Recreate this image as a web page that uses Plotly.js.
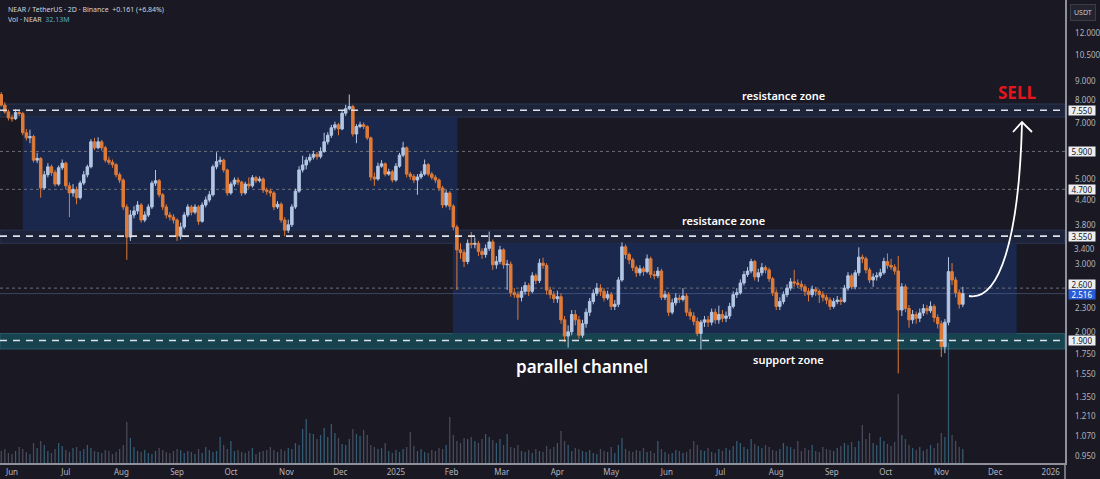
<!DOCTYPE html>
<html><head><meta charset="utf-8">
<script src="https://cdn.plot.ly/plotly-3.0.1.min.js"></script>
<style>html,body{margin:0;padding:0;background:#191823;overflow:hidden}#chart{width:1100px;height:479px}</style>
</head><body><div id="chart"></div>
<script>
// ---------- DATA (NEAR/USDT, 2-day candles) ----------
const startDate = '2024-05-26';
const stepDays = 2;
const firstOpen = 8.30;
const closePrices = [
7.79,7.48,7.22,7.18,7.45,7.40,6.60,6.40,6.45,5.60,
5.66,4.74,5.13,5.38,5.20,4.85,5.35,5.50,4.80,4.60,
4.70,4.47,4.88,5.13,5.38,6.25,6.03,6.25,6.03,5.60,
5.53,5.45,5.13,4.97,4.23,3.53,4.03,4.13,4.28,3.91,
4.03,4.23,4.88,4.95,4.55,4.23,4.03,3.98,3.91,3.55,
3.75,4.03,4.23,4.10,4.23,3.88,4.28,4.41,4.55,5.38,
5.55,5.60,5.28,4.60,4.85,4.97,4.91,4.60,4.85,4.80,
5.04,4.95,5.00,4.68,4.65,4.60,4.23,4.30,3.91,3.68,
3.80,4.23,4.65,5.28,5.44,5.60,5.70,5.80,5.72,5.90,
6.25,6.50,6.80,6.92,6.75,7.42,7.62,7.72,6.55,6.85,
6.92,6.85,6.40,5.06,5.00,5.40,5.48,5.15,5.22,4.97,
5.40,5.77,6.03,5.15,5.08,4.97,5.06,5.15,5.45,5.15,
5.05,4.97,4.74,
4.28,4.60,4.25,3.75,3.27,3.22,3.05,3.40,3.38,3.40,
3.24,3.18,3.30,3.43,2.99,3.05,3.27,2.99,3.00,2.53,
2.50,2.46,2.55,2.64,2.55,2.80,2.72,3.02,2.98,2.57,
2.50,2.44,2.47,2.15,1.95,2.00,2.22,2.15,1.96,2.10,
2.25,2.40,2.52,2.60,2.55,2.45,2.50,2.33,2.36,2.73,
3.33,3.18,3.08,2.94,2.85,2.92,2.87,3.10,2.82,2.80,
2.88,2.46,2.50,2.25,2.38,2.45,2.43,2.48,2.25,2.20,
2.13,1.98,2.12,2.15,2.12,2.25,2.15,2.22,2.17,2.20,
2.33,2.50,2.53,2.68,2.82,2.88,3.05,2.78,2.85,2.94,
2.90,2.75,2.53,2.33,2.40,2.50,2.60,2.70,2.68,2.66,
2.62,2.55,2.50,2.58,2.55,2.50,2.46,2.42,2.33,2.40,
2.42,2.40,2.60,2.80,2.62,2.85,3.13,3.10,2.90,2.73,
2.78,2.80,2.85,3.05,2.98,2.95,2.88,2.28,2.62,2.30,
2.15,2.22,2.17,2.24,2.30,2.27,2.33,2.18,2.10,1.83,
2.12,2.87,2.73,2.53,2.36,2.516
];
const highPrices = [
8.42,7.92,7.58,7.35,7.60,7.58,7.48,6.75,6.72,6.52,
5.85,5.70,5.25,5.50,5.45,5.28,5.42,5.62,5.55,4.90,
4.85,4.78,4.95,5.25,5.45,6.35,6.40,6.42,6.32,6.10,
5.72,5.62,5.50,5.20,5.02,4.30,4.15,4.25,4.38,4.33,
4.12,4.30,4.95,5.28,5.00,4.60,4.30,4.10,4.05,3.95,
3.85,4.10,4.30,4.28,4.30,4.28,4.35,4.50,4.65,5.45,
5.87,5.72,5.65,5.32,4.92,5.05,5.05,4.95,4.92,5.05,
5.12,5.10,5.08,5.05,4.75,4.72,4.65,4.38,4.35,3.98,
3.92,4.30,4.72,5.40,5.75,5.70,5.82,5.92,5.88,6.05,
6.60,6.62,6.92,7.05,7.00,7.55,7.80,8.30,7.80,6.95,
7.05,7.02,6.90,6.45,5.20,5.52,5.60,5.52,5.32,5.28,
5.50,5.85,6.25,6.08,5.22,5.15,5.15,5.25,5.62,5.50,
5.22,5.12,5.02,
4.80,4.68,4.65,4.30,3.80,3.40,3.28,3.48,3.64,3.52,
3.45,3.30,3.38,3.65,3.48,3.15,3.35,3.30,3.08,3.05,
2.60,2.55,2.62,2.70,2.68,2.86,2.84,3.10,3.12,3.02,
2.62,2.55,2.56,2.52,2.20,2.08,2.28,2.28,2.20,2.15,
2.30,2.45,2.58,2.68,2.66,2.60,2.56,2.54,2.42,2.78,
3.42,3.38,3.22,3.12,2.98,2.98,2.96,3.18,3.14,2.88,
2.95,2.92,2.56,2.54,2.44,2.52,2.50,2.60,2.52,2.30,
2.25,2.18,2.15,2.20,2.20,2.30,2.30,2.34,2.28,2.26,
2.38,2.55,2.60,2.74,2.88,2.95,3.10,3.08,2.92,3.02,
2.98,2.94,2.78,2.58,2.46,2.55,2.66,2.76,2.90,2.74,
2.72,2.66,2.60,2.64,2.62,2.58,2.55,2.50,2.46,2.45,
2.48,2.46,2.65,2.86,2.84,2.90,3.32,3.18,3.14,2.94,
2.84,2.86,2.92,3.12,3.20,3.10,3.00,3.15,2.68,2.66,
2.35,2.28,2.26,2.30,2.36,2.35,2.40,2.36,2.22,2.14,
2.16,3.13,3.02,2.78,2.58,2.62
];
const lowPrices = [
7.72,7.40,7.10,7.05,7.12,7.30,6.50,6.30,6.20,5.52,
5.50,4.47,4.70,5.05,5.10,4.78,4.80,5.28,4.70,3.98,
4.50,4.30,4.42,4.82,5.05,5.33,5.95,5.98,5.92,5.52,
5.45,5.35,5.05,4.88,4.15,3.08,3.45,3.95,4.05,3.85,
3.86,3.98,4.18,4.80,4.48,4.15,3.95,3.90,3.83,3.45,
3.48,3.70,3.98,4.02,4.05,3.80,3.85,4.22,4.35,4.50,
5.30,5.45,5.20,4.52,4.55,4.78,4.82,4.52,4.55,4.72,
4.75,4.88,4.90,4.60,4.55,4.50,4.15,4.18,3.85,3.55,
3.62,3.75,4.18,4.60,5.20,5.30,5.52,5.62,5.62,5.65,
5.85,6.15,6.40,6.70,6.50,6.70,7.30,7.55,6.45,6.20,
6.78,6.75,6.32,4.95,4.80,4.95,5.35,5.08,5.10,4.90,
4.92,5.35,5.70,5.05,4.98,4.88,4.55,5.00,5.10,5.08,
4.98,4.88,4.65,
4.20,4.22,4.15,3.68,2.57,3.10,2.95,3.00,3.30,3.30,
3.15,3.10,3.12,3.25,2.90,2.92,3.00,2.92,2.57,2.47,
2.45,2.15,2.40,2.50,2.48,2.52,2.66,2.68,2.92,2.50,
2.44,2.38,2.38,2.10,1.88,1.82,1.96,2.08,1.92,1.93,
2.05,2.20,2.36,2.48,2.48,2.40,2.42,2.28,2.28,2.32,
2.70,3.10,3.00,2.88,2.78,2.80,2.80,2.84,2.76,2.74,
2.76,2.42,2.42,2.20,2.22,2.34,2.38,2.40,2.20,2.15,
2.08,1.95,1.80,2.06,2.06,2.08,2.10,2.10,2.12,2.12,
2.16,2.30,2.45,2.50,2.64,2.78,2.84,2.72,2.70,2.80,
2.84,2.70,2.48,2.28,2.28,2.36,2.46,2.56,2.62,2.60,
2.56,2.48,2.40,2.46,2.48,2.38,2.40,2.36,2.28,2.30,
2.36,2.35,2.38,2.56,2.58,2.58,2.80,3.02,2.84,2.68,
2.62,2.72,2.76,2.82,2.92,2.90,2.82,1.56,2.20,2.25,
2.05,2.10,2.10,2.12,2.20,2.22,2.24,2.12,2.04,1.72,
1.76,2.08,2.65,2.46,2.30,2.32
];
const volumeM = [
24,28,20,18,24,32,28,22,18,40,30,
44,36,24,20,28,40,34,26,22,30,32,24,
28,36,30,24,22,20,26,24,18,22,28,36,82,
50,32,24,22,26,20,18,24,30,26,22,20,24,28,26,
20,24,22,18,28,20,32,26,22,24,52,36,
28,44,24,26,22,20,24,30,18,22,24,26,32,26,22,28,24,30,
28,40,36,68,88,60,58,48,56,70,52,78,60,50,38,36,48,68,58,54,
66,56,36,32,28,30,40,24,20,26,22,28,32,62,34,24,28,22,20,26,24,30,
28,36,92,56,44,40,50,48,52,44,40,48,58,52,46,40,48,36,
58,32,30,36,24,22,26,20,28,24,22,34,28,32,40,64,44,36,24,30,
28,24,22,26,20,18,28,24,22,32,20,36,50,28,24,22,26,24,30,22,
24,20,44,28,22,18,20,26,24,20,22,28,44,36,26,24,30,22,20,28,
24,30,26,34,44,40,32,28,48,38,34,30,36,32,26,24,28,40,34,32,
28,44,24,30,26,36,24,22,32,28,26,24,30,34,40,36,42,32,44,76,
48,60,40,36,52,44,38,34,42,138,
56,48,36,30,26,32,24,28,36,30,40,60,52,240,56,44,32,28
];
const monthTicks = ['2024-06-01','2024-07-01','2024-08-01','2024-09-01','2024-10-01','2024-11-01','2024-12-01','2025-01-01','2025-02-01','2025-03-01','2025-04-01','2025-05-01','2025-06-01','2025-07-01','2025-08-01','2025-09-01','2025-10-01','2025-11-01','2025-12-01','2026-01-01'];
const monthLabels = ['Jun','Jul','Aug','Sep','Oct','Nov','Dec','2025','Feb','Mar','Apr','May','Jun','Jul','Aug','Sep','Oct','Nov','Dec','2026'];
const priceTicks = [12, 10.5, 9, 8, 7, 5, 4.4, 3.8, 3, 2.3, 2, 1.75, 1.55, 1.35, 1.21, 1.07, 0.95];
const crowdedTick = 3.4;               // drawn just under the 3.550 box, as in the picture
const markedLevels = [7.55, 5.9, 4.7, 3.55, 2.6, 1.9];
const dashedLevels = [7.55, 3.55, 1.9];
const dottedLevels = [5.9, 4.7, 2.6];
const lastPrice = 2.516;
const zoneBands = [
  {lo: 7.25, hi: 7.84, fill: '#1d2439', edge: '#2b3553'},
  {lo: 3.40, hi: 3.68, fill: '#1d2439', edge: '#2b3553'},
  {lo: 1.805, hi: 1.98, fill: '#17434f', edge: '#2a5a68'}
];
const channelBoxes = [
  {start: '2024-06-07', end: '2025-02-04 06:00', lo: 3.68, hi: 7.25},
  {start: '2025-02-01 18:00', end: '2025-12-13', lo: 1.98, hi: 3.40}
];

// ---------- BUILD ----------
const UP = '#b3c7e4', DOWN = '#e07b37';
const BG = '#191823';
const dates = closePrices.map((_, i) => new Date(Date.UTC(2024, 4, 26) + i * stepDays * 86400000).toISOString().slice(0, 10));
const openPrices = closePrices.map((c, i) => i === 0 ? firstOpen : closePrices[i - 1]);
const volColors = closePrices.map((c, i) => c >= openPrices[i] ? 'rgba(70,140,172,0.6)' : 'rgba(135,140,160,0.45)');

const Y_MIN = 0.9112, Y_MAX = 14.626;
const LY0 = Math.log10(Y_MIN), LY1 = Math.log10(Y_MAX);
const yp = p => (Math.log10(p) - LY0) / (LY1 - LY0);
const PW = 1065, PH = 463;
const px = x => x / PW, pyy = y => 1 - y / PH;

const shapes = [];
zoneBands.forEach(b => shapes.push({type: 'rect', layer: 'below', xref: 'paper', yref: 'paper', x0: 0, x1: 1, y0: yp(b.lo), y1: yp(b.hi), fillcolor: b.fill, line: {color: b.edge, width: 1}}));
channelBoxes.forEach(b => shapes.push({type: 'rect', layer: 'below', xref: 'x', yref: 'paper', x0: b.start, x1: b.end, y0: yp(b.lo), y1: yp(b.hi), fillcolor: '#1a284d', line: {width: 0}}));
dottedLevels.forEach(v => shapes.push({type: 'line', layer: 'below', xref: 'paper', yref: 'paper', x0: 0, x1: 1, y0: yp(v), y1: yp(v), line: {color: '#6c6f7a', width: 1, dash: '3px,3px'}}));
shapes.push({type: 'line', layer: 'below', xref: 'paper', yref: 'paper', x0: 0, x1: 1, y0: yp(lastPrice), y1: yp(lastPrice), line: {color: 'rgba(100,125,175,0.45)', width: 1}});
dashedLevels.forEach(v => shapes.push({type: 'line', layer: 'above', xref: 'paper', yref: 'paper', x0: 0, x1: 1, y0: yp(v), y1: yp(v), line: {color: '#dfe2ea', width: 1.6, dash: '7px,6px'}}));
// arrow
const P = (x, y) => `${px(x)},${pyy(y)}`;
shapes.push({type: 'path', layer: 'above', xref: 'paper', yref: 'paper', path: `M${P(969,296)} C${P(999,301)} ${P(1019,240)} ${P(1022,123)}`, line: {color: '#ffffff', width: 1.8}});
shapes.push({type: 'path', layer: 'above', xref: 'paper', yref: 'paper', path: `M${P(1013,132)} L${P(1022,122)} L${P(1032,132)}`, line: {color: '#ffffff', width: 1.8}});
// separator below price axis
shapes.push({type: 'line', xref: 'paper', yref: 'paper', x0: 1, x1: 1, y0: 0, y1: -16 / PH, line: {color: '#8e919b', width: 1.5}});

const FONT = 'Noto Sans, sans-serif';
const A = (x, y, text, font, extra) => Object.assign({xref: 'paper', yref: 'paper', x: px(x), y: pyy(y), xanchor: 'center', yanchor: 'middle', showarrow: false, text: text, font: font}, extra || {});
const annotations = [
  A(6, 9, 'NEAR / TetherUS · 2D · Binance  +0.161 (+6.84%)', {family: FONT, size: 7, color: '#d1d4dc'}, {xanchor: 'left'}),
  A(6, 19.5, 'Vol · NEAR  <span style="color:#4fb0c6">32.13M</span>', {family: FONT, size: 7, color: '#d1d4dc'}, {xanchor: 'left'}),
  A(1083, 12, 'USDT', {family: FONT, size: 7, color: '#c8cad2'}, {bgcolor: '#23242f', bordercolor: '#3a3c48', borderwidth: 1, borderpad: 3}),
  A(783, 95, 'resistance zone', {family: FONT, size: 11, color: '#ffffff', weight: 600}),
  A(723, 220, 'resistance zone', {family: FONT, size: 11, color: '#ffffff', weight: 600}),
  A(788, 359, 'support zone', {family: FONT, size: 11, color: '#ffffff', weight: 600}),
  A(582, 366, 'parallel channel', {family: FONT, size: 17, color: '#ffffff', weight: 600}),
  A(1017, 93, 'SELL', {family: FONT, size: 17, color: '#e3161b', weight: 700})
];
// crowded tick label, nudged below the 3.550 box
annotations.push({xref: 'paper', yref: 'paper', x: 1, xshift: 7, y: yp(crowdedTick), yshift: -5, xanchor: 'left', yanchor: 'middle', showarrow: false,
  text: crowdedTick.toFixed(3), font: {family: FONT, size: 8, color: '#b2b5be'}});
// price-axis level boxes (TradingView nudges the 2.600 box up so it clears the last-price box)
const labelShift = {2.6: 4};
markedLevels.forEach(v => annotations.push({xref: 'paper', yref: 'paper', x: 1, xshift: 3, y: yp(v), yshift: labelShift[v] || 0, xanchor: 'left', yanchor: 'middle', showarrow: false,
  text: v.toFixed(3), font: {family: FONT, size: 8, color: '#131722'}, bgcolor: '#eceef2', borderpad: 0, width: 26, height: 9}));
annotations.push({xref: 'paper', yref: 'paper', x: 1, xshift: 3, y: yp(lastPrice), yshift: -1, xanchor: 'left', yanchor: 'middle', showarrow: false,
  text: lastPrice.toFixed(3), font: {family: FONT, size: 8, color: '#ffffff'}, bgcolor: '#2a5bd7', borderpad: 0, width: 26, height: 9});

const traces = [
  {type: 'bar', x: dates, y: volumeM, yaxis: 'y2', marker: {color: volColors, line: {width: 0}}, width: 0.7 * 86400000, hoverinfo: 'skip'},
  {type: 'candlestick', x: dates, open: openPrices, high: highPrices, low: lowPrices, close: closePrices,
   increasing: {line: {color: UP, width: 1}, fillcolor: UP}, decreasing: {line: {color: DOWN, width: 1}, fillcolor: DOWN},
   whiskerwidth: 0, hoverinfo: 'skip'}
];

const layout = {
  width: 1100, height: 479,
  margin: {l: 0, r: 35, t: 0, b: 16},
  paper_bgcolor: BG, plot_bgcolor: BG,
  showlegend: false, hovermode: false, dragmode: false,
  boxgap: 0.3, boxgroupgap: 0,
  font: {family: FONT, color: '#b2b5be'},
  xaxis: {type: 'date', range: ['2024-05-25 07:28', '2026-01-08 22:50'], rangeslider: {visible: false},
    tickvals: monthTicks, ticktext: monthLabels, ticks: '', showgrid: false, zeroline: false,
    showline: true, linecolor: '#8e919b', linewidth: 1.5, tickfont: {family: FONT, size: 8, color: '#b2b5be'}, ticklabelstandoff: 1},
  yaxis: {type: 'log', side: 'right', range: [LY0, LY1], tickvals: priceTicks, ticktext: priceTicks.map(v => v.toFixed(3)),
    ticks: '', showgrid: false, zeroline: false, showline: true, linecolor: '#8e919b', linewidth: 1.5,
    tickfont: {family: FONT, size: 8, color: '#b2b5be'}, ticklabelstandoff: 7},
  yaxis2: {overlaying: 'y', range: [0, 926], visible: false, fixedrange: true},
  shapes: shapes,
  annotations: annotations
};

Plotly.newPlot('chart', traces, layout, {staticPlot: true, displayModeBar: false});
</script>
</body></html>
